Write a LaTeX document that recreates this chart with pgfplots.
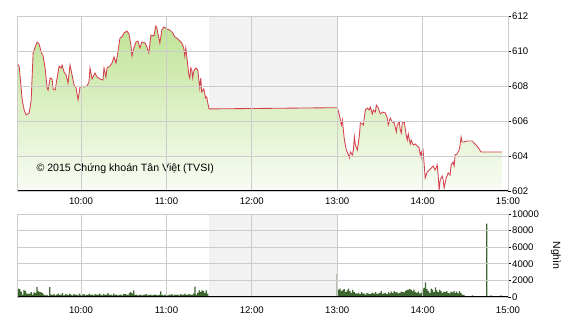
\documentclass[border=0pt]{standalone}
\usepackage{pgfplots}
\pgfplotsset{compat=1.18}
\usepackage{pgfplotstable}
\usepackage{fontspec}
\setmainfont{Liberation Sans}
\definecolor{gridgray}{RGB}{204,204,204}
\definecolor{shadegray}{RGB}{242,242,242}
\definecolor{linered}{RGB}{212,64,78}
\definecolor{fillTop}{RGB}{192,228,150}
\definecolor{fillBot}{RGB}{249,252,245}
\definecolor{volgreen}{RGB}{62,102,48}

\pgfplotstableread{
t v
9.252 609.31
9.276 609.09
9.311 607.20
9.334 606.63
9.357 606.34
9.393 606.46
9.416 607.20
9.439 609.89
9.463 610.23
9.486 610.51
9.509 610.40
9.533 609.94
9.556 609.71
9.579 609.03
9.603 607.89
9.614 607.77
9.638 608.46
9.661 608.40
9.673 607.83
9.696 607.77
9.720 608.46
9.743 609.14
9.766 609.03
9.778 609.20
9.801 608.80
9.825 608.63
9.848 608.17
9.871 609.20
9.895 608.63
9.918 608.06
9.942 607.89
9.965 607.20
9.988 607.94
10.012 608.00
10.035 607.94
10.070 608.00
10.093 608.23
10.105 609.03
10.129 608.40
10.164 608.74
10.187 608.51
10.222 608.40
10.257 608.34
10.269 609.03
10.292 608.51
10.304 609.03
10.339 609.14
10.362 609.31
10.386 609.66
10.409 609.31
10.432 609.94
10.456 610.74
10.479 610.80
10.502 611.03
10.537 611.14
10.561 610.97
10.584 610.34
10.596 609.71
10.619 610.17
10.642 610.51
10.666 610.57
10.689 610.17
10.713 610.51
10.748 610.46
10.771 610.23
10.794 609.89
10.818 610.91
10.853 610.86
10.876 611.43
10.888 611.31
10.923 610.46
10.946 611.20
10.970 611.37
11.005 611.26
11.040 611.20
11.075 611.03
11.098 610.80
11.121 610.74
11.157 610.57
11.180 610.46
11.203 610.17
11.215 609.71
11.227 610.17
11.250 609.20
11.262 608.63
11.273 608.46
11.285 609.03
11.297 608.91
11.308 608.46
11.320 608.86
11.343 609.03
11.367 608.91
11.390 607.89
11.402 608.46
11.413 607.66
11.437 607.83
11.460 607.31
11.472 607.37
11.484 607.03
11.500 606.69
13.002 606.76
13.026 606.34
13.049 605.77
13.061 606.06
13.072 605.49
13.084 604.91
13.107 604.34
13.131 604.06
13.142 603.89
13.154 604.23
13.178 604.06
13.189 604.34
13.201 605.09
13.213 604.63
13.236 604.34
13.259 605.14
13.271 605.89
13.294 605.83
13.306 605.77
13.329 606.63
13.353 606.74
13.376 606.63
13.388 606.80
13.411 606.40
13.423 606.63
13.446 606.51
13.458 606.91
13.481 606.74
13.505 606.40
13.528 606.51
13.563 606.46
13.586 606.17
13.598 605.77
13.621 606.17
13.645 605.94
13.668 605.89
13.692 605.37
13.703 605.77
13.727 605.94
13.738 605.49
13.750 605.31
13.762 605.89
13.785 605.94
13.808 605.20
13.820 604.91
13.832 605.26
13.855 604.69
13.867 604.91
13.890 604.63
13.913 604.69
13.937 604.57
13.960 604.46
13.972 604.06
13.984 604.23
13.995 603.77
14.007 604.23
14.019 603.49
14.030 602.74
14.054 603.09
14.077 603.20
14.100 603.31
14.124 603.43
14.147 603.20
14.171 603.49
14.182 602.91
14.194 602.06
14.206 602.63
14.229 602.86
14.241 602.63
14.252 602.17
14.276 602.74
14.299 603.03
14.322 602.91
14.334 603.49
14.357 603.66
14.369 603.43
14.381 604.06
14.404 604.11
14.427 604.34
14.439 604.63
14.451 605.09
14.463 604.80
14.486 604.80
14.521 604.86
14.579 604.86
14.638 604.57
14.685 604.23
14.743 604.23
14.930 604.23
}\price

\pgfplotstableread{
m v
555 1150
556 1000
557 950
558 650
559 300
560 850
561 700
562 400
563 380
564 420
565 600
566 300
567 550
568 500
569 1200
570 700
571 600
572 550
573 480
574 300
575 200
576 250
577 150
578 1200
579 300
580 250
581 350
582 200
583 300
584 400
585 250
586 300
587 480
588 200
589 350
590 300
591 250
592 400
593 300
594 200
595 350
596 250
597 300
598 200
599 400
600 250
601 300
602 350
603 200
604 250
605 300
606 400
607 250
608 300
609 200
610 350
611 300
612 250
613 400
614 300
615 200
616 350
617 250
618 300
619 480
620 250
621 300
622 200
623 400
624 250
625 300
626 200
627 250
628 300
629 200
630 350
631 350
632 300
633 250
634 500
635 600
636 450
637 800
638 250
639 300
640 200
641 250
642 300
643 200
644 250
645 300
646 350
647 200
648 250
649 300
650 200
651 250
652 300
653 250
654 200
655 300
656 680
657 250
658 200
659 300
660 250
661 200
662 300
663 250
664 350
665 200
666 300
667 250
668 300
669 200
670 350
671 250
672 300
673 400
674 250
675 300
676 350
677 300
678 250
679 400
680 1240
681 300
682 500
683 800
684 600
685 800
686 750
687 500
688 800
689 400
780 2800
781 900
782 1000
783 700
784 850
785 950
786 600
787 800
788 1000
789 700
790 500
791 850
792 600
793 450
794 400
795 500
796 350
797 600
798 450
799 400
800 300
801 500
802 400
803 350
804 450
805 500
806 400
807 600
808 350
809 450
810 500
811 700
812 400
813 450
814 500
815 350
816 600
817 450
818 650
819 500
820 700
821 550
822 600
823 450
824 500
825 650
826 600
827 550
828 750
829 850
830 900
831 950
832 850
833 700
834 880
835 600
836 500
837 650
838 450
839 500
840 900
841 1100
842 1760
843 950
844 700
845 500
846 1000
847 900
848 600
849 1150
850 800
851 600
852 900
853 700
854 500
855 650
856 600
857 700
858 500
859 450
860 650
861 550
862 700
863 500
864 650
865 450
866 700
867 500
868 300
869 250
875 200
885 8850
888 200
895 200
}\volume

\pgfplotsset{
  tvsi/.style={
    scale only axis, width=491pt,
    xmin=9.25, xmax=15,
    axis on top,
    axis x line*=bottom, axis y line*=right,
    x axis line style={black, line width=1pt, -},
    y axis line style={draw=gridgray, line width=0.7pt, -},
    xtick={10,11,12,13,14,15},
    xticklabels={10:00,11:00,12:00,13:00,14:00,15:00},
    grid=major, grid style={gridgray, line width=0.7pt},
    extra x ticks={9.25}, extra x tick labels={},
    extra x tick style={grid=major, major tick length=0pt},
    x tick style={draw=none},
    y tick style={black, line width=0.6pt},
    major tick length=3pt, tick align=outside,
    tick label style={font=\fontsize{9.6}{11}\selectfont},
    /pgf/number format/assume math mode=true,
    /pgf/number format/set thousands separator={},
    scaled y ticks=false,
    yticklabel style={inner sep=1pt},
  }
}

\begin{document}
\begin{tikzpicture}
\useasboundingbox (-17pt,-129pt) rectangle (553pt,191pt);
\begin{axis}[tvsi, name=top, at={(0pt,0pt)}, anchor=south west,
  height=175pt, ymin=602, ymax=612, ytick={602,604,...,612},
  xticklabel style={yshift=-0.5pt}]
  \fill[shadegray] (axis cs:11.5,602) rectangle (axis cs:13,612);
  \addplot[draw=none, top color=fillTop, bottom color=fillBot]
    table[x=t, y=v] {\price} -- (axis cs:14.930,602) -- (axis cs:9.252,602) -- cycle;
  \addplot[linered, line width=0.85pt, mark=none] table[x=t, y=v] {\price};
  \node[anchor=west, font=\fontsize{10.6}{12}\selectfont] at (rel axis cs:0.0326,0.126)
    {© 2015 Chứng khoán Tân Việt (TVSI)};
\end{axis}
\begin{axis}[tvsi, name=bot, at={(0pt,-106pt)}, anchor=south west,
  height=83pt, ymin=0, ymax=10000, ytick={0,2000,...,10000},
  xticklabel style={yshift=-3.5pt}]
  \fill[shadegray] (axis cs:11.5,0) rectangle (axis cs:13,10000);
  \addplot[ybar, bar width=1.25pt, bar shift=0pt, draw=none, fill=volgreen]
    table[x expr=\thisrow{m}/60, y=v] {\volume};
\end{axis}
\node[rotate=-90, font=\fontsize{10.5}{12}\selectfont] at (539pt,-64.5pt) {Nghìn};
\end{tikzpicture}
\end{document}
